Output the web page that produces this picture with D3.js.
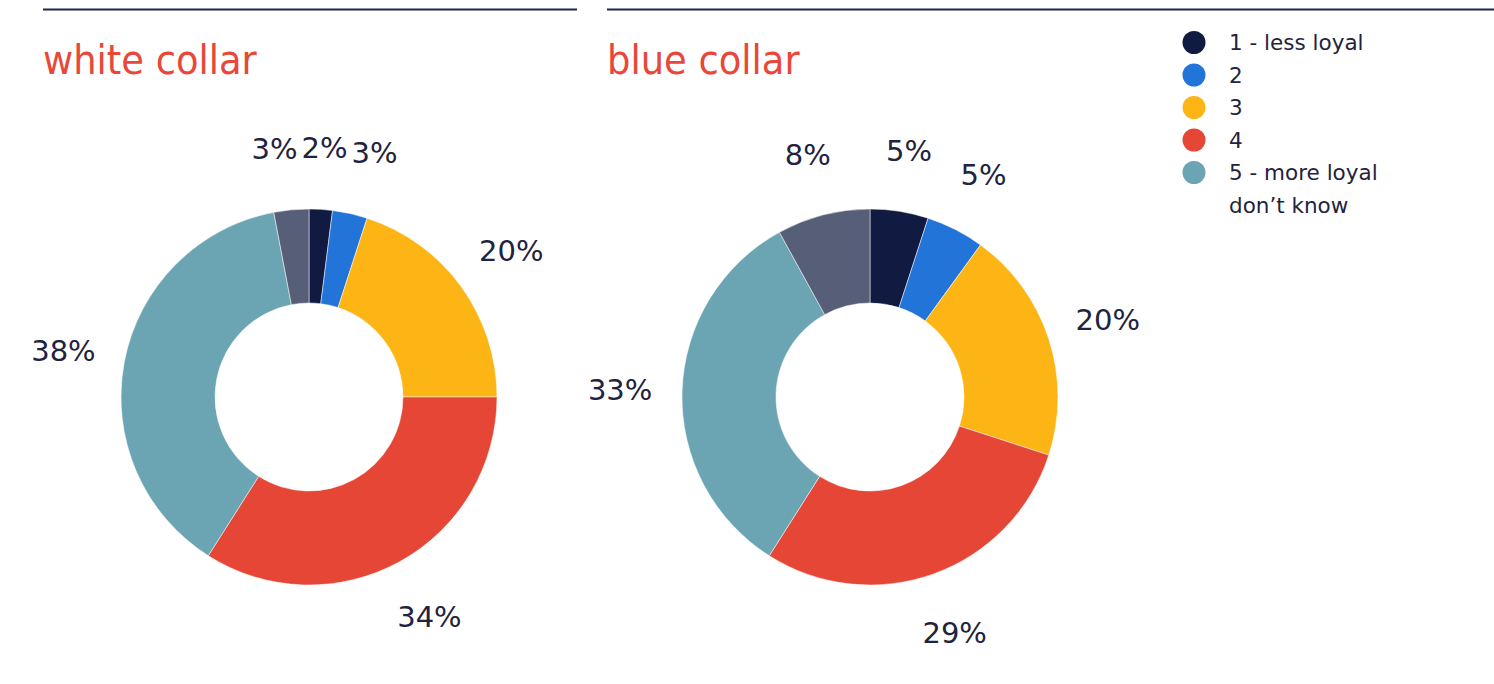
<!DOCTYPE html>
<html>
<head>
<meta charset="utf-8">
<script src="https://cdn.jsdelivr.net/npm/d3@7/dist/d3.min.js"></script>
<style>
  html, body { margin: 0; padding: 0; background: #fff; }
  #chart { width: 1494px; height: 684px; }
  text { font-family: "DejaVu Sans", sans-serif; }
  .title { font-family: "DejaVu Sans Condensed", "DejaVu Sans", sans-serif; }
</style>
</head>
<body>
<div id="chart"></div>
<script>
var categories = ["1 - less loyal", "2", "3", "4", "5 - more loyal", "don\u2019t know"];
var whiteCollar = [2, 3, 20, 34, 38, 3];
var blueCollar = [5, 5, 20, 29, 33, 8];
var groups = ["white collar", "blue collar"];
var colors = ["#111a40", "#2374d9", "#fdb515", "#e64636", "#6ba4b2", "#575e78"];

var svgwidth = 1494, svgheight = 684;
var outerR = 188, innerR = 94, labelR = 250;

var svg = d3.select("#chart").append("svg")
    .attr("width", svgwidth)
    .attr("height", svgheight);

// one panel per group
var panels = [
  { title: groups[0], values: whiteCollar, x0: 43, x1: 577, cx: 309 },
  { title: groups[1], values: blueCollar, x0: 607, x1: 1494, cx: 870 }
];

var pie = d3.pie().sort(null).value(function (d) { return d; });
var arc = d3.arc().innerRadius(innerR).outerRadius(outerR);
var labelArc = d3.arc().innerRadius(labelR).outerRadius(labelR);
var color = d3.scaleOrdinal().domain(categories).range(colors);

panels.forEach(function (p) {
  svg.append("line")
     .attr("x1", p.x0).attr("x2", p.x1)
     .attr("y1", 9.5).attr("y2", 9.5)
     .attr("stroke", "#1f2545")
     .attr("stroke-width", 2);

  svg.append("text")
     .attr("class", "title")
     .text(p.title)
     .attr("x", p.x0)
     .attr("y", 74)
     .attr("fill", "#e8473a")
     .style("font-size", "41px");

  var g = svg.append("g")
     .attr("transform", "translate(" + p.cx + ",397)");

  var arcs = pie(p.values);

  g.selectAll("path")
   .data(arcs)
   .enter()
   .append("path")
   .attr("d", arc)
   .attr("fill", function (d, i) { return color(categories[i]); })
   .attr("stroke", "#fff")
   .attr("stroke-width", 0.5);

  var labels = g.selectAll("text.lbl")
   .data(arcs)
   .enter()
   .append("text")
   .attr("class", "lbl")
   .attr("text-anchor", "middle")
   .attr("dy", "0.36em")
   .attr("fill", "#1f2340")
   .style("font-size", "29px")
   .text(function (d) { return d.data + "%"; });

  // start at the centroid, then push overlapping labels apart sideways
  var pos = arcs.map(function (d) { return labelArc.centroid(d); });
  var w = labels.nodes().map(function (n) { return n.getComputedTextLength() + 4; });
  for (var it = 0; it < 50; it++) {
    for (var a = 0; a < pos.length; a++) {
      for (var b = a + 1; b < pos.length; b++) {
        var dx = pos[b][0] - pos[a][0];
        var need = (w[a] + w[b]) / 2;
        if (Math.abs(pos[b][1] - pos[a][1]) < 24 && Math.abs(dx) < need) {
          var push = (need - Math.abs(dx)) / 2;
          var s = dx >= 0 ? 1 : -1;
          pos[a][0] -= s * push;
          pos[b][0] += s * push;
        }
      }
    }
  }
  labels.attr("transform", function (d, i) { return "translate(" + pos[i] + ")"; });
});

// legend
var legend = svg.append("g").attr("transform", "translate(1194,0)");
var rows = legend.selectAll("g")
    .data(categories)
    .enter()
    .append("g")
    .attr("transform", function (d, i) { return "translate(0," + (42.5 + i * 32.5) + ")"; });

rows.append("circle")
    .attr("r", 11.5)
    .attr("fill", function (d, i) { return i < 5 ? color(d) : "none"; });

rows.append("text")
    .attr("x", 35)
    .attr("dy", "0.35em")
    .attr("fill", "#1f2340")
    .style("font-size", "21.5px")
    .text(function (d) { return d; });
</script>
</body>
</html>
